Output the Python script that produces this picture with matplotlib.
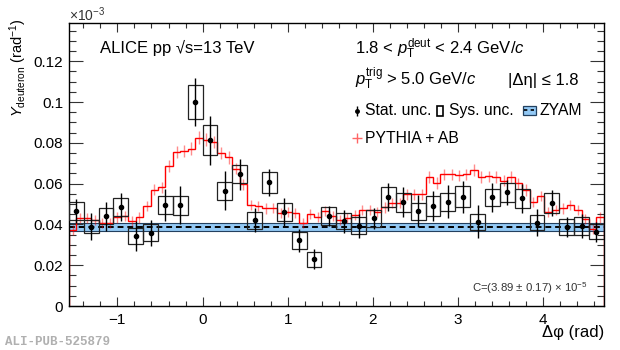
import numpy as np
import matplotlib.pyplot as plt
from matplotlib.patches import Rectangle
from matplotlib.ticker import MultipleLocator, FuncFormatter

plt.rcParams['font.family'] = ['Liberation Sans', 'DejaVu Sans']
plt.rcParams['mathtext.fontset'] = 'custom'
plt.rcParams['mathtext.rm'] = 'Liberation Sans'
plt.rcParams['mathtext.it'] = 'Liberation Sans:italic'
plt.rcParams['mathtext.bf'] = 'Liberation Sans:bold'

# delta-phi range, 36 data bins, 72 PYTHIA bins
dphi_lo, dphi_hi = -np.pi / 2, 3 * np.pi / 2

yield_d = [0.0465, 0.0389, 0.0440, 0.0485, 0.0343, 0.0359, 0.0496, 0.0493, 0.1000,
           0.0813, 0.0565, 0.0646, 0.0421, 0.0606, 0.0460, 0.0322, 0.0230, 0.0440,
           0.0416, 0.0393, 0.0429, 0.0534, 0.0509, 0.0465, 0.0490, 0.0511, 0.0535,
           0.0413, 0.0532, 0.0557, 0.0527, 0.0408, 0.0506, 0.0387, 0.0393, 0.0364]
stat = [0.0060, 0.0065, 0.0070, 0.0067, 0.0072, 0.0065, 0.0078, 0.0093, 0.0120,
        0.0120, 0.0095, 0.0076, 0.0057, 0.0065, 0.0070, 0.0055, 0.0047, 0.0050,
        0.0057, 0.0060, 0.0050, 0.0070, 0.0075, 0.0078, 0.0073, 0.0080, 0.0080,
        0.0080, 0.0070, 0.0060, 0.0070, 0.0067, 0.0065, 0.0050, 0.0060, 0.0050]
syst = [0.0043, 0.0031, 0.0040, 0.0043, 0.0041, 0.0041, 0.0044, 0.0047, 0.0083,
        0.0073, 0.0043, 0.0045, 0.0042, 0.0051, 0.0043, 0.0041, 0.0037, 0.0045,
        0.0039, 0.0041, 0.0041, 0.0049, 0.0046, 0.0042, 0.0049, 0.0043, 0.0052,
        0.0039, 0.0043, 0.0045, 0.0046, 0.0037, 0.0049, 0.0041, 0.0044, 0.0037]

pythia = [0.0372, 0.0430, 0.0430, 0.0420, 0.0405, 0.0405, 0.0434, 0.0440, 0.0418,
          0.0434, 0.0491, 0.0571, 0.0581, 0.0686, 0.0756, 0.0761, 0.0772, 0.0826,
          0.0816, 0.0805, 0.0751, 0.0728, 0.0674, 0.0597, 0.0495, 0.0490, 0.0478,
          0.0480, 0.0457, 0.0462, 0.0455, 0.0408, 0.0450, 0.0437, 0.0465, 0.0440,
          0.0420, 0.0430, 0.0446, 0.0470, 0.0470, 0.0462, 0.0483, 0.0506, 0.0506,
          0.0548, 0.0548, 0.0548, 0.0633, 0.0604, 0.0646, 0.0646, 0.0641, 0.0646,
          0.0666, 0.0633, 0.0636, 0.0633, 0.0614, 0.0633, 0.0601, 0.0568, 0.0511,
          0.0539, 0.0462, 0.0470, 0.0478, 0.0494, 0.0470, 0.0425, 0.0376, 0.0434]
pythia_err = [0.0025, 0.0025, 0.0025, 0.0025, 0.0025, 0.0025, 0.0025, 0.0025, 0.0025,
              0.0025, 0.0025, 0.0028, 0.0028, 0.0030, 0.0030, 0.0030, 0.0030, 0.0030,
              0.0030, 0.0030, 0.0030, 0.0030, 0.0028, 0.0028, 0.0025, 0.0025, 0.0025,
              0.0025, 0.0025, 0.0025, 0.0025, 0.0025, 0.0025, 0.0025, 0.0025, 0.0025,
              0.0025, 0.0025, 0.0025, 0.0025, 0.0025, 0.0025, 0.0025, 0.0025, 0.0025,
              0.0028, 0.0028, 0.0028, 0.0028, 0.0028, 0.0028, 0.0028, 0.0028, 0.0028,
              0.0028, 0.0028, 0.0028, 0.0028, 0.0028, 0.0028, 0.0028, 0.0028, 0.0025,
              0.0025, 0.0025, 0.0025, 0.0025, 0.0025, 0.0025, 0.0025, 0.0025, 0.0025]

zyam, zyam_err = 0.0389, 0.0019

edges = np.linspace(dphi_lo, dphi_hi, len(yield_d) + 1)
centers = 0.5 * (edges[1:] + edges[:-1])
bw = edges[1] - edges[0]
p_edges = np.linspace(dphi_lo, dphi_hi, len(pythia) + 1)
p_centers = 0.5 * (p_edges[1:] + p_edges[:-1])

fig = plt.figure(figsize=(6.2, 3.5), dpi=100)
ax = fig.add_axes([0.111, 0.1257, 0.863, 0.809])

# ZYAM band
band_c = '#93c9f5'
ax.fill_between([dphi_lo, dphi_hi], zyam - zyam_err, zyam + zyam_err,
                color=band_c, lw=0, zorder=1)
ax.axhline(zyam - zyam_err, color='#23405f', lw=0.8, zorder=1.5)
ax.axhline(zyam + zyam_err, color='#23405f', lw=0.8, zorder=1.5)
ax.axhline(zyam, color='black', lw=1.4, ls=(0, (3, 2)), zorder=1.6)

# PYTHIA + AB
ax.stairs(pythia, p_edges, color='red', lw=1.0, zorder=2)
ax.errorbar(p_centers, pythia, yerr=pythia_err, fmt='none', ecolor='red',
            elinewidth=1.0, alpha=0.45, zorder=2)

# data: systematic boxes + stat errors
for c, y, s in zip(centers, yield_d, syst):
    ax.add_patch(Rectangle((c - bw / 2, y - s), bw, 2 * s, fill=False,
                           edgecolor='#222222', lw=0.9, zorder=3))
ax.errorbar(centers, yield_d, yerr=stat, fmt='o', color='black', ms=3,
            elinewidth=1.0, capsize=0, zorder=4)

ax.set_xlim(dphi_lo, dphi_hi)
ax.set_ylim(0, 0.1388)
ax.xaxis.set_major_locator(MultipleLocator(1))
ax.xaxis.set_minor_locator(MultipleLocator(0.2))
ax.yaxis.set_major_locator(MultipleLocator(0.02))
ax.yaxis.set_minor_locator(MultipleLocator(0.005))
ax.yaxis.set_major_formatter(FuncFormatter(lambda v, p: '%g' % round(v, 4)))
ax.xaxis.set_major_formatter(FuncFormatter(lambda v, p: ('\u2212%d' % -v) if v < 0 else '%d' % v))
ax.tick_params(axis='both', which='both', direction='in', top=True, right=True,
               labelsize=11, width=0.8, color='#333333')
ax.tick_params(axis='x', which='major', length=6.5, pad=5)
ax.tick_params(axis='x', which='minor', length=3.5)
ax.tick_params(axis='y', which='major', length=10, pad=4)
ax.tick_params(axis='y', which='minor', length=5)
for sp in ax.spines.values():
    sp.set_linewidth(1.0)

# axis labels
fig.text(0.03, 0.948, r'$Y_{\mathrm{deuteron}}$ (rad$^{-1}$)', rotation=90,
         ha='center', va='top', fontsize=10.5)
fig.text(0.974, 0.049, '\u0394\u03c6 (rad)', ha='right', va='center', fontsize=12)
fig.text(0.111, 0.957, r'$\times$10$^{-3}$', ha='left', va='center', fontsize=10,
         color='#333333')
fig.text(0.008, 0.024, 'ALI-PUB-525879', ha='left', va='center', fontsize=9,
         family='Liberation Mono', weight='bold', color='#b0b0b0')

# annotations
tr = ax.transAxes
ax.text(0.058, 0.892, 'ALICE pp \u221as=13 TeV', transform=tr, fontsize=12,
        va='baseline', family=['Liberation Sans', 'DejaVu Sans'])
ax.text(0.535, 0.889, r'1.8 < $p_{\mathrm{T}}^{\mathrm{deut}}$ < 2.4 GeV/$c$',
        transform=tr, fontsize=12, va='baseline')
ax.text(0.535, 0.780, r'$p_{\mathrm{T}}^{\mathrm{trig}}$ > 5.0 GeV/$c$',
        transform=tr, fontsize=12, va='baseline')
ax.text(0.953, 0.780, '|\u0394\u03b7| \u2264 1.8', transform=tr, fontsize=12,
        va='baseline', ha='right')

# legend row
leg_fs = 11.3
ax.errorbar([0.539], [0.688], yerr=[0.018], fmt='o', color='black', ms=2.5,
            elinewidth=1.0, transform=tr, clip_on=False)
ax.text(0.553, 0.674, 'Stat. unc.', transform=tr, fontsize=leg_fs, va='baseline')
ax.add_patch(Rectangle((0.689, 0.672), 0.011, 0.036, transform=tr, fill=False,
                       edgecolor='black', lw=1.2))
ax.text(0.710, 0.674, 'Sys. unc.', transform=tr, fontsize=leg_fs, va='baseline')
ax.add_patch(Rectangle((0.848, 0.676), 0.025, 0.031, transform=tr,
                       facecolor=band_c, edgecolor='#23405f', lw=0.9))
ax.plot([0.851, 0.870], [0.691, 0.691], transform=tr, color='black', lw=1.2,
        ls=(0, (2, 2)))
ax.text(0.880, 0.674, 'ZYAM', transform=tr, fontsize=leg_fs, va='baseline')

ax.plot([0.539], [0.593], marker='+', ms=7, mew=1.0, color='red', alpha=0.6,
        transform=tr)
ax.text(0.553, 0.574, 'PYTHIA + AB', transform=tr, fontsize=leg_fs, va='baseline')

ax.text(0.970, 0.050, r'C=(3.89 $\pm$ 0.17) $\times$ 10$^{-5}$', transform=tr,
        fontsize=8.2, ha='right', va='baseline', color='#333333')

fig.savefig('out.png', dpi=100)
